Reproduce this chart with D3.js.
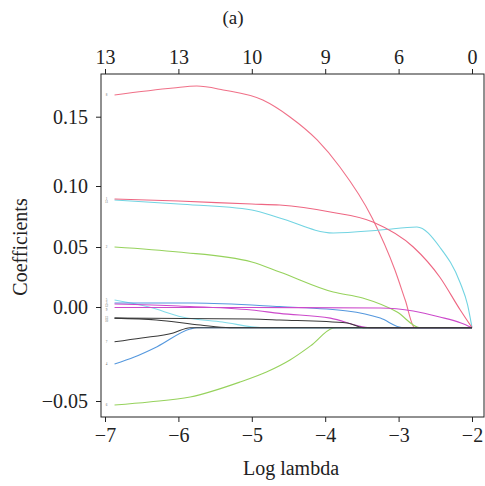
<!DOCTYPE html>
<html>
<head>
<meta charset="utf-8">
<script src="https://cdn.jsdelivr.net/npm/d3@7"></script>
<style>
  body { margin: 0; background: #fff; }
  text { font-family: 'Liberation Serif', 'Times New Roman', serif; }
</style>
</head>
<body>
<div id="chart"></div>
<script>
// tick values of the two x axes and the y axis
const xTicks = [-7, -6, -5, -4, -3, -2];
const topTickLabels = ['13', '13', '10', '9', '6', '0'];
const yTicks = [-0.05, 0, 0.05, 0.10, 0.15];

// coefficient paths (log lambda, coefficient)
const lam8 = [-6.87, -6.07, -5.75, -5.39, -4.85, -4.48, -4.11, -3.80, -3.36, -3.05, -2.91, -2.78, -2];
const coef8 = [0.1657, 0.1707, 0.1721, 0.1693, 0.162, 0.1498, 0.1332, 0.1137, 0.0738, 0.0308, 0.0058, -0.011, -0.011];

const lam1 = [-6.87, -6.0, -5.0, -4.62, -3.93, -3.35, -2.80, -2.44, -2.16, -2];
const coef1 = [0.0893, 0.0877, 0.0852, 0.0844, 0.0787, 0.0705, 0.05, 0.025, -0.0016, -0.011];

const lam11 = [-6.87, -6.0, -5.0, -4.62, -3.89, -3.25, -2.75, -2.44, -2.16, -2.06, -2];
const coef11 = [0.0885, 0.0852, 0.0803, 0.0738, 0.0615, 0.0639, 0.0664, 0.05, 0.02, 0.0017, -0.011];

const lam2 = [-6.87, -6.0, -5.0, -4.62, -3.89, -3.49, -3.02, -2.71, -2];
const coef2 = [0.05, 0.0458, 0.0375, 0.0292, 0.0125, 0.0075, -0.0027, -0.011, -0.011];

const lam5 = [-6.87, -6.4, -5.95, -5.4, -4.85, -2];
const coef5 = [0.0058, 0.0, -0.0053, -0.008, -0.011, -0.011];

const lam3 = [-6.87, -5.8, -4.62, -3.7, -3.25, -2.94, -2];
const coef3 = [0.0033, 0.0033, 0.0003, -0.0021, -0.0059, -0.011, -0.011];

const lam9 = [-6.87, -5.0, -3.25, -2.8, -2.44, -2.15, -2];
const coef9 = [-0.0003, -0.0003, -0.0005, -0.0021, -0.0053, -0.0085, -0.011];

const lam12 = [-6.87, -6.0, -5.0, -4.62, -3.93, -3.39, -2];
const coef12 = [0.0025, 0.0008, -0.0016, -0.0034, -0.0059, -0.011, -0.011];

const lam10 = [-6.87, -5.0, -4.62, -3.7, -3.48, -2];
const coef10 = [-0.0059, -0.0064, -0.0069, -0.0085, -0.011, -0.011];

const lam13 = [-6.87, -6.3, -5.7, -5.3, -2];
const coef13 = [-0.0059, -0.0069, -0.0096, -0.011, -0.011];

const lam7 = [-6.87, -6.5, -6.07, -5.84, -2];
const coef7 = [-0.0185, -0.0165, -0.0138, -0.011, -0.011];

const lam4 = [-6.87, -6.6, -6.29, -5.84, -5.75, -2];
const coef4 = [-0.0303, -0.0266, -0.0211, -0.0117, -0.011, -0.011];

const lam6 = [-6.87, -6.4, -5.84, -5.16, -4.8, -4.48, -4.2, -3.89, -3.85, -2];
const coef6 = [-0.0521, -0.0505, -0.0479, -0.0399, -0.0346, -0.0282, -0.0207, -0.0112, -0.011, -0.011];

// drawing order: coloured paths first, black ones on top
const paths = [
    { id: '8', color: '#f07088', lam: lam8, coef: coef8 },
    { id: '11', color: '#72d4e2', lam: lam11, coef: coef11 },
    { id: '1', color: '#ee6682', lam: lam1, coef: coef1 },
    { id: '2', color: '#96d25c', lam: lam2, coef: coef2 },
    { id: '6', color: '#96d25c', lam: lam6, coef: coef6 },
    { id: '5', color: '#84dcea', lam: lam5, coef: coef5 },
    { id: '3', color: '#5598de', lam: lam3, coef: coef3 },
    { id: '4', color: '#5598de', lam: lam4, coef: coef4 },
    { id: '12', color: '#cc4acb', lam: lam12, coef: coef12 },
    { id: '9', color: '#cc4acb', lam: lam9, coef: coef9 },
    { id: '7', color: '#3a3a3a', lam: lam7, coef: coef7 },
    { id: '13', color: '#3a3a3a', lam: lam13, coef: coef13 },
    { id: '10', color: '#3a3a3a', lam: lam10, coef: coef10 }
];

const margin = { top: 74, right: 1, bottom: 69, left: 101 };
const width = 485 - margin.left - margin.right;
const height = 486 - margin.top - margin.bottom;

const svg = d3.select('#chart')
    .append('svg')
    .attr('width', 485)
    .attr('height', 486);

const chart = svg.append('g')
    .attr('transform', `translate(${margin.left},${margin.top})`);

const x = d3.scaleLinear().domain([-7, -2]).range([4, 371]);
// the printed y axis is not evenly spaced, so the scale is piecewise
const y = d3.scaleLinear().domain(yTicks).range([327, 233, 173, 112, 42.7]);

const line = d3.line()
    .x((d) => x(d[0]))
    .y((d) => y(d[1]))
    .curve(d3.curveMonotoneX);

chart.selectAll('.coef-path')
    .data(paths)
    .join('path')
    .attr('class', 'coef-path')
    .attr('d', (d) => line(d.lam.map((l, i) => [l, d.coef[i]])))
    .style('fill', 'none')
    .style('stroke', (d) => d.color)
    .style('stroke-width', 1.1);

// tiny variable labels at the start of each path, nudged apart where they crowd
const labelPos = paths
    .map((d) => ({ id: d.id, y: y(d.coef[0]) }))
    .sort((a, b) => a.y - b.y);
for (let i = 1; i < labelPos.length; i++) {
    if (labelPos[i].y - labelPos[i - 1].y < 3.2) {
        labelPos[i].y = labelPos[i - 1].y + 3.2;
    }
}

chart.selectAll('.coef-label')
    .data(labelPos)
    .join('text')
    .attr('class', 'coef-label')
    .attr('x', x(-6.87) - 8)
    .attr('y', (d) => d.y + 1)
    .style('font-size', '3.2px')
    .style('fill', '#666')
    .style('text-anchor', 'middle')
    .text((d) => d.id);

// frame
chart.append('rect')
    .attr('width', width)
    .attr('height', height)
    .style('fill', 'none')
    .style('stroke', '#222')
    .style('stroke-width', 1);

const styleAxis = (g) => {
    g.select('.domain').remove();
    g.selectAll('.tick line').style('stroke', '#222');
    g.selectAll('.tick text')
        .style('font-size', '20px')
        .style('font-family', "'Liberation Serif', serif")
        .style('fill', '#222');
};

chart.append('g')
    .attr('transform', `translate(0,${height})`)
    .call(d3.axisBottom(x).tickValues(xTicks).tickSize(5).tickPadding(6).tickFormat(d3.format('d')))
    .call(styleAxis);

chart.append('g')
    .call(d3.axisTop(x).tickValues(xTicks).tickSize(5).tickPadding(5)
        .tickFormat((d, i) => topTickLabels[i]))
    .call(styleAxis);

chart.append('g')
    .call(d3.axisLeft(y).tickValues(yTicks).tickSize(5).tickPadding(8).tickFormat(d3.format('.2f')))
    .call(styleAxis);

// titles
svg.append('text')
    .attr('x', 233)
    .attr('y', 24)
    .style('text-anchor', 'middle')
    .style('font-size', '19px')
    .style('fill', '#222')
    .text('(a)');

svg.append('text')
    .attr('x', 291)
    .attr('y', 475)
    .style('text-anchor', 'middle')
    .style('font-size', '20px')
    .style('fill', '#222')
    .text('Log lambda');

svg.append('text')
    .attr('transform', 'translate(27,247) rotate(-90)')
    .style('text-anchor', 'middle')
    .style('font-size', '20px')
    .style('fill', '#222')
    .text('Coefficients');
</script>
</body>
</html>
